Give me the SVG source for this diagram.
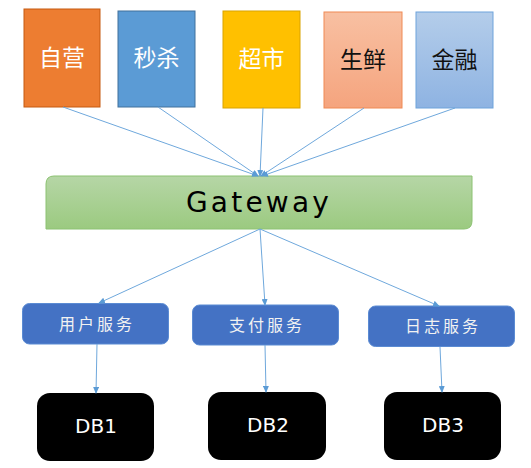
<svg xmlns="http://www.w3.org/2000/svg" width="531" height="468" viewBox="0 0 531 468">
<defs>
<linearGradient id="gSx" x1="0" y1="0" x2="0" y2="1"><stop offset="0" stop-color="#F8C0A2"/><stop offset="1" stop-color="#F5A47E"/></linearGradient>
<linearGradient id="gJr" x1="0" y1="0" x2="0" y2="1"><stop offset="0" stop-color="#B4CDEA"/><stop offset="1" stop-color="#8EB3E2"/></linearGradient>
<linearGradient id="gGw" x1="0" y1="0" x2="0" y2="1"><stop offset="0" stop-color="#B6D6A6"/><stop offset="1" stop-color="#9BCA80"/></linearGradient>
<marker id="arr" markerWidth="7" markerHeight="6" refX="6" refY="3" orient="auto" markerUnits="userSpaceOnUse"><path d="M0,0 L7,3 L0,6 Z" fill="#5B9BD5"/></marker>
<style>
.cn{font-family:"Noto Sans CJK SC","Noto Sans",sans-serif;font-size:23px;text-anchor:middle}
.svc rect{fill:#4472C4;stroke:#5B8BD3;stroke-width:1}
.svc text{font-family:"Noto Sans CJK SC","Noto Sans",sans-serif;font-size:16px;fill:#F2F2F2;text-anchor:middle;letter-spacing:3px}
.db rect{fill:#000}
.db text{font-family:"DejaVu Sans",sans-serif;font-size:20px;fill:#fff;text-anchor:middle}
.conn line{stroke:#6FA8DC;stroke-width:1;marker-end:url(#arr)}
</style>
</defs>
<g id="node-ziying"><rect x="24" y="9" width="76" height="98" fill="#ED7D31" stroke="#C55A11"/><text class="cn" x="62" y="66" fill="#fff">自营</text></g>
<g id="node-miaosha"><rect x="118" y="11" width="77" height="96" fill="#5B9BD5" stroke="#41719C"/><text class="cn" x="156.5" y="66" fill="#fff">秒杀</text></g>
<g id="node-chaoshi"><rect x="223" y="11" width="77" height="97" fill="#FFC000" stroke="#D9A300"/><text class="cn" x="261.5" y="67" fill="#fff">超市</text></g>
<g id="node-shengxian"><rect x="324" y="12" width="78" height="96" fill="url(#gSx)" stroke="#EF8A55"/><text class="cn" x="363" y="68" fill="#111">生鲜</text></g>
<g id="node-jinrong"><rect x="416" y="12" width="77" height="96" fill="url(#gJr)" stroke="#6FA3DB"/><text class="cn" x="454.5" y="68" fill="#111">金融</text></g>
<g id="node-gateway"><path d="M54,176 H472 V221 Q472,229 464,229 H46 V184 Q46,176 54,176 Z" fill="url(#gGw)" stroke="#8CC272"/><text x="259" y="212" font-family="DejaVu Sans,sans-serif" font-size="28" letter-spacing="3.2" text-anchor="middle" fill="#000">Gateway</text></g>
<g id="node-user"  class="svc"><rect x="22.5" y="303.5" width="146" height="40.5" rx="7"/><text x="97" y="330">用户服务</text></g>
<g id="node-pay"   class="svc"><rect x="192.5" y="305" width="146" height="40" rx="7"/><text x="267" y="331">支付服务</text></g>
<g id="node-log"   class="svc"><rect x="368.5" y="306" width="146" height="40.5" rx="7"/><text x="443" y="332">日志服务</text></g>
<g id="node-db1" class="db"><rect x="37" y="393" width="117" height="68" rx="13"/><text x="96" y="433">DB1</text></g>
<g id="node-db2" class="db"><rect x="208" y="392" width="118" height="68" rx="13"/><text x="268" y="432">DB2</text></g>
<g id="node-db3" class="db"><rect x="384" y="392" width="117" height="68" rx="13"/><text x="443" y="432">DB3</text></g>
<g id="connectors" class="conn">
<line x1="63" y1="107" x2="258" y2="176"/>
<line x1="158" y1="107" x2="258" y2="176"/>
<line x1="263" y1="108" x2="260" y2="176"/>
<line x1="364" y1="108" x2="261" y2="176"/>
<line x1="455" y1="108" x2="262" y2="176"/>
<line x1="260" y1="229" x2="99" y2="303"/>
<line x1="260" y1="229" x2="265" y2="305"/>
<line x1="260" y1="229" x2="439" y2="306"/>
<line x1="97" y1="344" x2="96" y2="393"/>
<line x1="265" y1="345" x2="266" y2="392"/>
<line x1="440" y1="347" x2="442" y2="392"/>
</g>
</svg>
